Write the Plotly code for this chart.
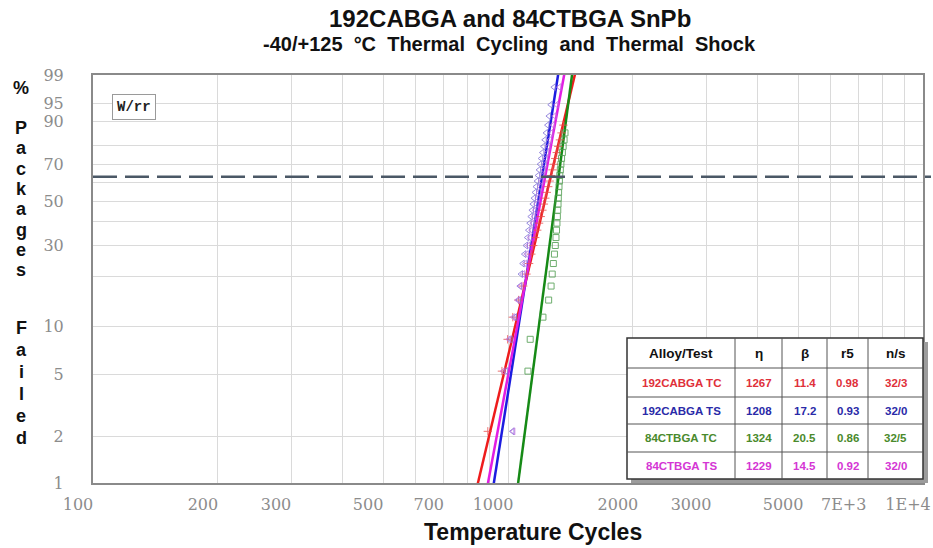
import numpy as np
import plotly.graph_objects as go

# ---------------- data ----------------
series_names = ["192CABGA TC", "192CABGA TS", "84CTBGA TC", "84CTBGA TS"]
eta = [1267, 1208, 1324, 1229]
beta = [11.4, 17.2, 20.5, 14.5]
r5 = ["0.98", "0.93", "0.86", "0.92"]
ns = ["32/3", "32/0", "32/5", "32/0"]
table_header = ["Alloy/Test", "η", "β", "r5", "n/s"]

# failure points (cycles, % failed)
red_cycles = [894, 967, 998, 1027, 1060, 1088, 1108, 1124, 1138, 1150, 1163, 1176, 1188,
              1199, 1210, 1220, 1230, 1240, 1250, 1260, 1270, 1280, 1290, 1300, 1311,
              1322, 1334, 1346, 1360]
red_pct = [2.16, 5.25, 8.33, 11.42, 14.51, 17.59, 20.68, 23.77, 26.85, 29.94, 33.02,
           36.11, 39.20, 42.28, 45.37, 48.46, 51.54, 54.63, 57.72, 60.80, 63.89, 66.98,
           70.06, 73.15, 76.23, 79.32, 82.41, 85.49, 88.58]

blue_cycles = [1025, 990, 1015, 1040, 1062, 1068, 1075, 1085, 1095, 1105, 1113, 1120,
               1128, 1135, 1142, 1148, 1155, 1162, 1168, 1175, 1182, 1188, 1195, 1202,
               1210, 1218, 1226, 1235, 1245, 1255, 1268, 1290]
blue_pct = [2.16, 5.25, 8.33, 11.42, 14.51, 17.59, 20.68, 23.77, 26.85, 29.94, 33.02,
            36.11, 39.20, 42.28, 45.37, 48.46, 51.54, 54.63, 57.72, 60.80, 63.89, 66.98,
            70.06, 73.15, 76.23, 79.32, 82.41, 85.49, 88.58, 91.67, 94.75, 97.84]

green_cycles = [1117, 1131, 1214, 1253, 1270, 1278, 1286, 1294, 1300, 1305, 1309, 1312,
                1315, 1318, 1320, 1322, 1324, 1327, 1330, 1333, 1337, 1341, 1346, 1352,
                1358, 1365, 1372]
green_pct = [5.25, 8.33, 11.42, 14.51, 17.59, 20.68, 23.77, 26.85, 29.94, 33.02, 36.11,
             39.20, 42.28, 45.37, 48.46, 51.54, 54.63, 57.72, 60.80, 63.89, 66.98, 70.06,
             73.15, 76.23, 79.32, 82.41, 85.49]

magenta_cycles = [1030, 975, 1005, 1030, 1055, 1072, 1088, 1100, 1110, 1120, 1130, 1140,
                  1148, 1156, 1164, 1172, 1180, 1188, 1196, 1204, 1212, 1220, 1228, 1236,
                  1244, 1252, 1262, 1272, 1284, 1296, 1310, 1330]
magenta_pct = blue_pct

x_ticks = [100, 200, 300, 500, 700, 1000, 2000, 3000, 5000, 7000, 10000]
x_ticklabels = ["100", "200", "300", "500", "700", "1000", "2000", "3000", "5000", "7E+3", "1E+4"]
x_minor = [400, 600, 800, 900, 4000, 6000, 8000, 9000]
y_ticks_pct = [1, 2, 5, 10, 30, 50, 70, 90, 95, 99]
y_minor_pct = [20, 40, 60, 80]

line_colors = ["#ee1c1c", "#1c1ce0", "#168a16", "#e21ee2"]
point_colors = ["#e85050", "#8070d8", "#4a9a4a", "#c070e0"]
text_colors = ["#e0303a", "#2a2aa8", "#4a8a2c", "#d436d4"]
markers = ["cross-thin-open", "triangle-left-open", "square-open", "triangle-left-open"]


def wb(p):
    p = np.asarray(p, dtype=float) / 100.0
    return np.log(-np.log(1.0 - p))


# plot area in pixels
L, R, T, B = 93, 923, 75, 483
W, H = 933, 548


def px(x):
    return (x - L) / (R - L)


def py(y):
    return (B - y) / (B - T)


fig = go.Figure()

# fitted Weibull lines
t = np.logspace(np.log10(700), np.log10(2000), 200)
for i in range(4):
    fig.add_trace(go.Scatter(x=t, y=beta[i] * (np.log(t) - np.log(eta[i])), mode="lines",
                             line=dict(color=line_colors[i], width=2.5),
                             showlegend=False, hoverinfo="skip"))

pts = [(red_cycles, red_pct), (blue_cycles, blue_pct), (green_cycles, green_pct),
       (magenta_cycles, magenta_pct)]
for i, (c, p) in enumerate(pts):
    fig.add_trace(go.Scatter(x=c, y=wb(p), mode="markers",
                             marker=dict(symbol=markers[i], size=6, color=point_colors[i],
                                         line=dict(width=1, color=point_colors[i])),
                             opacity=0.8, showlegend=False, name=series_names[i]))

grid = "#dadada"
fig.update_xaxes(type="log", range=[2, 4], tickvals=x_ticks, ticktext=x_ticklabels,
                 showgrid=True, gridcolor=grid, gridwidth=1, automargin=False,
                 minor=dict(tickvals=x_minor, showgrid=True, gridcolor=grid, ticks=""),
                 showline=True, linecolor="#8a8a8a", linewidth=2, mirror=True,
                 ticks="", zeroline=False, ticklabelshift=-15, ticklabelstandoff=6,
                 tickfont=dict(family="DejaVu Serif", size=16, color="#8c8c8c"))
fig.update_yaxes(range=[float(wb(1)), float(wb(99))], tickvals=wb(y_ticks_pct),
                 ticktext=[str(v) for v in y_ticks_pct], automargin=False,
                 showgrid=True, gridcolor=grid, gridwidth=1,
                 minor=dict(tickvals=wb(y_minor_pct), showgrid=True, gridcolor=grid, ticks=""),
                 showline=True, linecolor="#8a8a8a", linewidth=2, mirror=True,
                 ticks="", zeroline=False, ticklabelstandoff=24,
                 tickfont=dict(family="DejaVu Serif", size=16, color="#8c8c8c"))

shapes = []
# 63.2% reference line
shapes.append(dict(type="line", xref="paper", yref="y", x0=0, x1=px(931), y0=0, y1=0,
                   line=dict(color="#4b5866", width=2.5, dash="24px,8px"), layer="above"))

# table
col_edges = [627, 735, 782, 827, 868, 923]
row_edges = [338, 368, 397, 424, 452, 479]
shapes.append(dict(type="rect", xref="paper", yref="paper",
                   x0=px(col_edges[0] + 4), x1=px(col_edges[-1] + 5),
                   y0=py(row_edges[0] + 4), y1=py(row_edges[-1] + 4),
                   fillcolor="#9c9c9c", line=dict(width=0), layer="above"))
shapes.append(dict(type="rect", xref="paper", yref="paper",
                   x0=px(col_edges[0]), x1=px(col_edges[-1]),
                   y0=py(row_edges[0]), y1=py(row_edges[-1]),
                   fillcolor="white", line=dict(color="#333333", width=1.5), layer="above"))
for xe in col_edges[1:-1]:
    shapes.append(dict(type="line", xref="paper", yref="paper", x0=px(xe), x1=px(xe),
                       y0=py(row_edges[0]), y1=py(row_edges[-1]),
                       line=dict(color="#555555", width=1), layer="above"))
for ye in row_edges[1:-1]:
    shapes.append(dict(type="line", xref="paper", yref="paper", x0=px(col_edges[0]),
                       x1=px(col_edges[-1]), y0=py(ye), y1=py(ye),
                       line=dict(color="#555555", width=1), layer="above"))

ann = []
F = "Liberation Sans"


def A(x, y, text, size, color="#111111", family=F, **kw):
    d = dict(x=px(x), y=py(y), xref="paper", yref="paper", text=text, showarrow=False,
             xanchor="center", yanchor="middle", font=dict(family=family, size=size, color=color))
    d.update(kw)
    ann.append(d)


for j, h in enumerate(table_header):
    A((col_edges[j] + col_edges[j + 1]) / 2, (row_edges[0] + row_edges[1]) / 2,
      "<b>%s</b>" % h, 13.5)
for i in range(4):
    row = [series_names[i], str(eta[i]), str(beta[i]), r5[i], ns[i]]
    for j, v in enumerate(row):
        A((col_edges[j] + col_edges[j + 1]) / 2, (row_edges[i + 1] + row_edges[i + 2]) / 2,
          "<b>%s</b>" % v, 11.5, text_colors[i])

# titles
sp = "&nbsp;&nbsp;"
A(510, 18, "<b>192CABGA and 84CTBGA SnPb</b>", 24)
A(510, 44, "<b>" + sp.join("-40/+125 °C Thermal Cycling and Thermal Shock".split(" ")) + "</b>", 20)
A(533, 532, "<b>Temperature Cycles</b>", 23)

# vertical y-axis title letters
letters = [("%", 88)]
for k, ch in enumerate("Packages"):
    letters.append((ch, 128 + k * 20.3))
for k, ch in enumerate("Failed"):
    letters.append((ch, 328 + k * 22))
for ch, yy in letters:
    A(21, yy, "<b>%s</b>" % ch, 18)

# W/rr box
A(134, 107, "<b>W/rr</b>", 14, "#222222", "Liberation Mono",
  bordercolor="#9a9a9a", borderwidth=1, borderpad=4, bgcolor="white")

fig.update_layout(width=W, height=H, margin=dict(l=L, r=W - R, t=T, b=H - B, autoexpand=False),
                  plot_bgcolor="white", paper_bgcolor="white", shapes=shapes, annotations=ann,
                  showlegend=False)
fig.write_html("out.html", config={"displayModeBar": False},
               post_script="document.body.style.margin='0';")
